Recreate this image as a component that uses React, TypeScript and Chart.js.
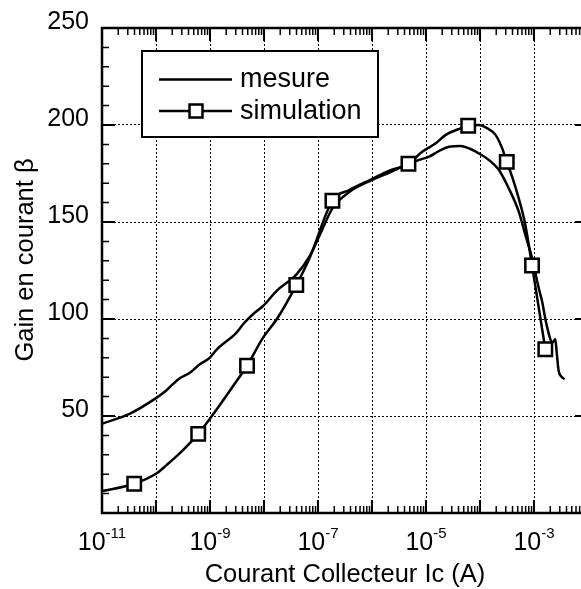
import React, { useEffect, useRef } from "react";
import { Chart, registerables } from "chart.js";

Chart.register(...registerables);

const FONT = '"Liberation Sans", Arial, Helvetica, sans-serif';

// ---- Data ----
const mesureCurrent = [
  1e-11, 3.3e-11, 1.0e-10, 1.53e-10, 2.6e-10, 4.3e-10, 6.5e-10, 1.0e-9, 1.3e-9,
  3.1e-9, 4.1e-9, 6.7e-9, 9.6e-9, 1.7e-8, 4.0e-8, 7.0e-8, 1.07e-7, 1.85e-7,
  3.8e-7, 9.7e-7, 2.1e-6, 4.7e-6, 7.5e-6, 1.14e-5, 1.75e-5, 2.67e-5, 4.4e-5,
  6.2e-5, 9.5e-5, 1.46e-4, 2.23e-4, 3.4e-4, 5.2e-4, 6.9e-4, 9.2e-4, 1.22e-3,
  1.41e-3, 1.71e-3, 2.21e-3, 2.48e-3, 2.65e-3, 2.86e-3, 3.24e-3, 3.69e-3,
];
const mesureGain = [
  46.0, 51.2, 59.2, 63.0, 69.0, 72.4, 76.7, 80.1, 84.0,
  93.0, 97.3, 103.2, 106.7, 114.4, 123.0, 132.4, 143, 157,
  165.5, 171.5, 175.5, 179.8, 182, 183.7, 186.6, 188.8, 189.2,
  188, 185.4, 182, 176.9, 167.4, 155.5, 143.5, 131.5, 116.1,
  109.1, 97, 87.8, 89.7, 81.9, 73.3, 70.2, 69.0,
];

const simCurrent = [
  1e-11, 3.95e-11, 1.03e-10, 1.58e-10, 2.8e-10, 6.05e-10, 1.04e-9, 2.7e-9,
  4.85e-9, 9.6e-9, 1.77e-8, 3.96e-8, 7.0e-8, 1.85e-7, 3.8e-7, 9.7e-7, 2.1e-6,
  4.73e-6, 8.6e-6, 1.52e-5, 2.32e-5, 4.4e-5, 6.05e-5, 9.5e-5, 1.36e-4,
  1.94e-4, 2.57e-4, 3.13e-4, 3.93e-4, 5.2e-4, 6.9e-4, 9.2e-4, 1.62e-3,
];
const simGain = [
  11.3, 15.1, 20.5, 24.8, 31.0, 40.8, 49.3, 65.6,
  75.9, 90.4, 100.4, 117.5, 131.5, 161, 166.5, 172, 176.5,
  180, 186.3, 190.6, 194.9, 198.3, 199.6, 200, 198.3,
  194.9, 188, 181, 173.4, 162.3, 148.6, 127.6, 84.4,
];

const simMarkerCurrent = [3.95e-11, 6.05e-10, 4.85e-9, 3.96e-8, 1.85e-7, 4.73e-6, 6.05e-5, 3.13e-4, 9.2e-4, 1.62e-3];
const simMarkerGain = [15.1, 40.8, 75.9, 117.5, 161, 180, 199.6, 181, 127.6, 84.4];

const xMin = 1e-11;
const xMax = 1e-2;
const xDecadeExponents = [-11, -10, -9, -8, -7, -6, -5, -4, -3, -2];
const xLabelExponents = [-11, -9, -7, -5, -3];
const yMin = 0;
const yMax = 250;
const yTickValues = [50, 100, 150, 200, 250];
const yMinorStep = 10;

const xTitle = "Courant Collecteur Ic (A)";
const yTitle = "Gain en courant β";
const legendLabels = ["mesure", "simulation"];

const decorPlugin = {
  id: "decor",
  afterDatasetsDraw(chart: any) {
    const { ctx, chartArea: a, scales } = chart;
    const xs = scales.x;
    const ys = scales.y;
    ctx.save();
    ctx.strokeStyle = "#000";
    ctx.fillStyle = "#000";

    // minor ticks
    ctx.lineWidth = 1.5;
    ctx.beginPath();
    for (const e of xDecadeExponents) {
      for (let k = 2; k <= 9; k++) {
        const v = k * Math.pow(10, e);
        if (v > xMax) continue;
        const px = xs.getPixelForValue(v);
        ctx.moveTo(px, a.top);
        ctx.lineTo(px, a.top + 7);
        ctx.moveTo(px, a.bottom);
        ctx.lineTo(px, a.bottom - 7);
      }
    }
    for (let v = yMin; v <= yMax; v += yMinorStep) {
      if (v % 50 === 0) continue;
      const py = ys.getPixelForValue(v);
      ctx.moveTo(a.left, py);
      ctx.lineTo(a.left + 7, py);
      ctx.moveTo(a.right, py);
      ctx.lineTo(a.right - 7, py);
    }
    ctx.stroke();

    // major ticks
    ctx.lineWidth = 2;
    ctx.beginPath();
    for (const e of xDecadeExponents) {
      const px = xs.getPixelForValue(Math.pow(10, e));
      ctx.moveTo(px, a.top);
      ctx.lineTo(px, a.top + 13);
      ctx.moveTo(px, a.bottom);
      ctx.lineTo(px, a.bottom - 13);
    }
    for (const v of yTickValues) {
      const py = ys.getPixelForValue(v);
      ctx.moveTo(a.left, py);
      ctx.lineTo(a.left + 13, py);
      ctx.moveTo(a.right, py);
      ctx.lineTo(a.right - 13, py);
    }
    ctx.stroke();

    // frame
    ctx.lineWidth = 2.5;
    ctx.strokeRect(a.left, a.top, a.right - a.left, a.bottom - a.top);

    // x tick labels with superscript exponents
    const baseFont = `25px ${FONT}`;
    const expFont = `15px ${FONT}`;
    ctx.textBaseline = "alphabetic";
    ctx.textAlign = "left";
    for (const e of xLabelExponents) {
      const px = xs.getPixelForValue(Math.pow(10, e));
      ctx.font = baseFont;
      const w1 = ctx.measureText("10").width;
      ctx.font = expFont;
      const expText = String(e);
      const w2 = ctx.measureText(expText).width;
      const x0 = px - (w1 + w2) / 2;
      ctx.font = baseFont;
      ctx.fillText("10", x0, a.bottom + 37);
      ctx.font = expFont;
      ctx.fillText(expText, x0 + w1, a.bottom + 25);
    }

    // axis titles
    ctx.font = `25.5px ${FONT}`;
    ctx.textAlign = "center";
    ctx.fillText(xTitle, (a.left + a.right) / 2, a.bottom + 69);
    ctx.save();
    ctx.translate(33, 260);
    ctx.rotate(-Math.PI / 2);
    ctx.fillText(yTitle, 0, 0);
    ctx.restore();

    // legend
    const lx = 142, ly = 51, lw = 236, lh = 86;
    ctx.fillStyle = "#fff";
    ctx.fillRect(lx, ly, lw, lh);
    ctx.lineWidth = 2;
    ctx.strokeRect(lx, ly, lw, lh);
    ctx.fillStyle = "#000";
    const rows = [79.5, 111];
    ctx.font = `27px ${FONT}`;
    ctx.textAlign = "left";
    rows.forEach((ry, i) => {
      ctx.lineWidth = 2.5;
      ctx.beginPath();
      ctx.moveTo(159, ry);
      ctx.lineTo(232, ry);
      ctx.stroke();
      if (i === 1) {
        ctx.fillStyle = "#fff";
        ctx.fillRect(189.5, ry - 6.5, 13, 13);
        ctx.strokeRect(189.5, ry - 6.5, 13, 13);
        ctx.fillStyle = "#000";
      }
      ctx.fillText(legendLabels[i], 240, ry + 7.5);
    });

    ctx.restore();
  },
};

export default function App() {
  const ref = useRef<HTMLCanvasElement>(null);
  useEffect(() => {
    const canvas = ref.current;
    if (!canvas) return;
    const chart = new Chart(canvas, {
      type: "scatter",
      data: {
        datasets: [
          {
            label: "simulation markers",
            data: simMarkerCurrent.map((x, i) => ({ x, y: simMarkerGain[i] })),
            showLine: false,
            pointStyle: "rect",
            pointRadius: 9.5,
            pointBorderWidth: 2.5,
            borderWidth: 2.5,
            pointBorderColor: "#000",
            borderColor: "#000",
            pointBackgroundColor: "#fff",
            backgroundColor: "#fff",
            order: 0,
          },
          {
            label: legendLabels[1],
            data: simCurrent.map((x, i) => ({ x, y: simGain[i] })),
            showLine: true,
            borderColor: "#000",
            borderWidth: 2.5,
            pointRadius: 0,
            cubicInterpolationMode: "monotone",
            order: 1,
          },
          {
            label: legendLabels[0],
            data: mesureCurrent.map((x, i) => ({ x, y: mesureGain[i] })),
            showLine: true,
            borderColor: "#000",
            borderWidth: 2.5,
            pointRadius: 0,
            cubicInterpolationMode: "monotone",
            order: 2,
          },
        ],
      },
      options: {
        animation: false,
        responsive: false,
        devicePixelRatio: 1,
        layout: { padding: { top: 27, right: 12, bottom: 0, left: 0 } },
        plugins: { legend: { display: false }, tooltip: { enabled: false } },
        scales: {
          x: {
            type: "logarithmic",
            position: "bottom",
            min: xMin,
            max: xMax,
            afterBuildTicks: (s: any) => {
              s.ticks = xDecadeExponents.map((e) => ({ value: Math.pow(10, e) }));
            },
            afterFit: (s: any) => {
              s.height = 76;
            },
            ticks: { display: false },
            grid: { color: "#000", lineWidth: 1, drawTicks: false },
            border: { display: false, dash: [2, 2] },
          },
          y: {
            type: "linear",
            min: yMin,
            max: yMax,
            afterBuildTicks: (s: any) => {
              s.ticks = yTickValues.map((v) => ({ value: v }));
            },
            afterFit: (s: any) => {
              s.width = 102;
            },
            ticks: {
              color: "#000",
              font: { family: FONT, size: 25 },
              padding: 13,
              labelOffset: -6,
            },
            grid: { color: "#000", lineWidth: 1, drawTicks: false },
            border: { display: false, dash: [2, 2] },
          },
        },
      },
      plugins: [decorPlugin],
    } as any);
    return () => chart.destroy();
  }, []);

  return (
    <div
      style={{
        position: "absolute",
        left: 0,
        top: 0,
        width: 581,
        height: 589,
        overflow: "hidden",
        background: "#fff",
      }}
    >
      <canvas ref={ref} width={600} height={589} style={{ display: "block" }} />
    </div>
  );
}
